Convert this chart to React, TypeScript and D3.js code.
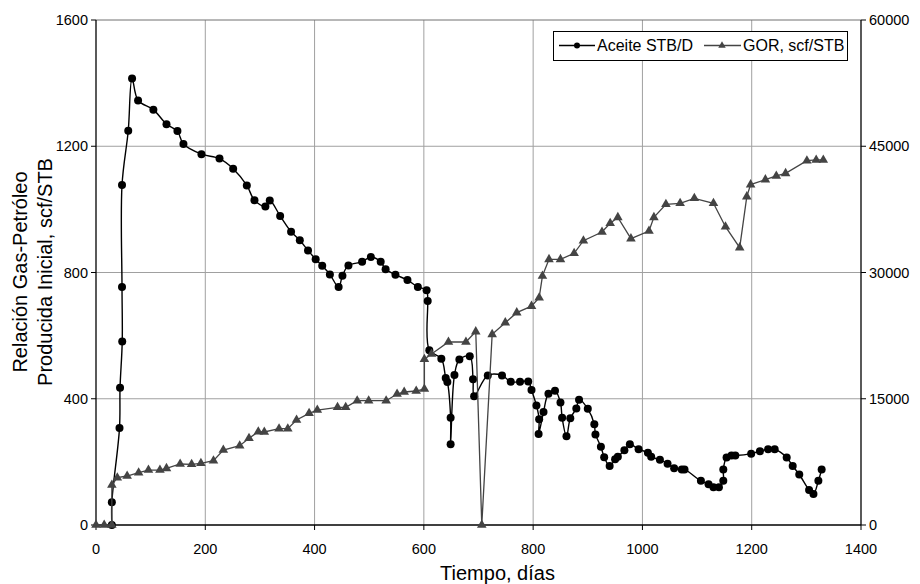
import React from "react";
import * as d3 from "d3";

// ---- data ----
const oilDays = [29, 29, 43, 44, 48, 47.6, 47.6, 59, 66, 77, 105, 129, 149, 160, 193, 226, 251, 276, 290, 310, 318, 337, 357, 373, 388, 402, 414, 428, 444, 451, 462, 487, 503, 521, 530, 548, 570, 589, 605, 607, 610, 632, 640, 643, 649, 649, 656, 665, 684, 690, 692, 717, 743, 759, 776, 791, 797, 806, 811, 810, 819, 828, 840, 850, 853, 861, 868, 879, 884, 900, 912, 914, 924, 930, 940, 950, 955, 967, 977, 993, 1010, 1016, 1032, 1046, 1058, 1072, 1077, 1107, 1121, 1130, 1140, 1148, 1148, 1154, 1163, 1170, 1199, 1215, 1230, 1242, 1264, 1275, 1287, 1305, 1313, 1322, 1328];
const oilRate = [0, 72, 307, 435, 581, 754, 1077, 1249, 1415, 1345, 1316, 1270, 1248, 1207, 1175, 1161, 1129, 1076, 1029, 1009, 1028, 979, 929, 902, 870, 842, 821, 794, 754, 790, 822, 834, 849, 834, 810, 793, 776, 754, 744, 710, 554, 527, 466, 453, 340, 256, 475, 524, 535, 462, 408, 474, 474, 454, 454, 455, 428, 379, 335, 288, 358, 416, 425, 388, 340, 281, 338, 369, 397, 368, 319, 287, 248, 215, 187, 208, 216, 237, 256, 240, 229, 216, 207, 194, 180, 176, 176, 140, 129, 120, 120, 140, 176, 214, 220, 220, 226, 234, 240, 240, 214, 187, 160, 111, 98, 140, 176];

const gorDays = [0, 15, 29, 29, 39, 57, 78, 96, 117, 129, 154, 175, 192, 215, 233, 263, 280, 297, 308, 335, 351, 367, 390, 405, 442, 457, 478, 499, 531, 551, 564, 586, 601, 601, 614, 645, 677, 695, 706, 725, 749, 770, 797, 811, 817, 829, 850, 875, 892, 926, 941, 955, 979, 1012, 1021, 1043, 1069, 1095, 1130, 1152, 1178, 1191, 1198, 1225, 1245, 1262, 1301, 1318, 1331];
const gorValues = [0, 0, 0, 4750, 5620, 5820, 6210, 6530, 6530, 6730, 7250, 7210, 7330, 7640, 8910, 9420, 10300, 11080, 11050, 11440, 11440, 12470, 13270, 13660, 13980, 13980, 14770, 14770, 14770, 15560, 15800, 15920, 16160, 19690, 20320, 21740, 21740, 22970, 0, 22650, 24040, 25230, 26000, 27000, 29580, 31560, 31560, 32280, 33780, 34810, 35840, 36550, 34020, 34930, 36550, 38100, 38220, 38810, 38220, 35440, 32950, 39010, 40440, 41030, 41470, 41780, 43280, 43370, 43370];

const xTicks = [0, 200, 400, 600, 800, 1000, 1200, 1400];
const leftTicks = [0, 400, 800, 1200, 1600];
const rightTicks = [0, 15000, 30000, 45000, 60000];

const oilLabel = "Aceite STB/D";
const gorLabel = "GOR, scf/STB";
const xTitle = "Tiempo, días";
const yTitle1 = "Relación Gas-Petróleo";
const yTitle2 = "Producida Inicial, scf/STB";

const W = 920;
const H = 584;
const FONT = "Liberation Sans, Arial, Helvetica, sans-serif";

export default function App() {
  const x = d3.scaleLinear().domain([0, 1400]).range([96, 861]);
  const yL = d3.scaleLinear().domain([0, 1600]).range([525, 20]);
  const yR = d3.scaleLinear().domain([0, 60000]).range([525, 20]);

  const oilPts: [number, number][] = oilDays.map((d, i) => [x(d), yL(oilRate[i])]);
  const gorPts: [number, number][] = gorDays.map((d, i) => [x(d), yR(gorValues[i])]);

  const oilLine = d3.line().curve(d3.curveCatmullRom.alpha(0.5))(oilPts) || "";
  const gorLine = d3.line()(gorPts) || "";
  const tri = d3.symbol().type(d3.symbolTriangle).size(40)() || "";

  const gridColor = "#a0a0a0";
  const gorColor = "#444444";

  const [x0, x1] = x.range();
  const yBot = yL(0);
  const yTop = yL(1600);

  return (
    <svg width={W} height={H} style={{ position: "absolute", left: 0, top: 0, background: "#fff" }} fontFamily={FONT}>
      <rect x={0} y={0} width={W} height={H} fill="#fff" />
      {/* grid */}
      {xTicks.slice(1, -1).map((t) => (
        <line key={"gx" + t} x1={x(t)} x2={x(t)} y1={yTop} y2={yBot} stroke={gridColor} strokeWidth={1} />
      ))}
      {leftTicks.slice(1).map((t) => (
        <line key={"gy" + t} x1={x0} x2={x1} y1={yL(t)} y2={yL(t)} stroke={t === 1600 ? "#707070" : gridColor} strokeWidth={1} />
      ))}
      {/* axes */}
      <line x1={x0} x2={x0} y1={yTop} y2={yBot} stroke="#000" strokeWidth={1.3} />
      <line x1={x1} x2={x1} y1={yTop} y2={yBot} stroke="#000" strokeWidth={1.3} />
      <line x1={x0} x2={x1} y1={yBot} y2={yBot} stroke="#000" strokeWidth={1.3} />
      {xTicks.map((t) => (
        <g key={"xt" + t}>
          <line x1={x(t)} x2={x(t)} y1={yBot} y2={yBot + 5} stroke="#000" strokeWidth={1} />
          <text x={x(t)} y={554} textAnchor="middle" fontSize={14.5} fill="#000">{t}</text>
        </g>
      ))}
      {leftTicks.map((t) => (
        <g key={"lt" + t}>
          <line x1={x0 - 5} x2={x0} y1={yL(t)} y2={yL(t)} stroke="#000" strokeWidth={1} />
          <text x={x0 - 8} y={yL(t) + 5} textAnchor="end" fontSize={14.5} fill="#000">{t}</text>
        </g>
      ))}
      {rightTicks.map((t) => (
        <g key={"rt" + t}>
          <line x1={x1} x2={x1 + 5} y1={yR(t)} y2={yR(t)} stroke="#000" strokeWidth={1} />
          <text x={x1 + 8} y={yR(t) + 5} textAnchor="start" fontSize={14.5} fill="#000">{t}</text>
        </g>
      ))}

      {/* oil series */}
      <path d={oilLine} fill="none" stroke="#000" strokeWidth={1.4} />
      {oilPts.map((p, i) => (
        <circle key={"o" + i} cx={p[0]} cy={p[1]} r={4} fill="#000" />
      ))}

      {/* GOR series */}
      <path d={gorLine} fill="none" stroke={gorColor} strokeWidth={1.3} />
      {gorPts.map((p, i) => (
        <path key={"g" + i} d={tri} transform={`translate(${p[0]},${p[1]})`} fill={gorColor} />
      ))}

      {/* legend */}
      <rect x={553.5} y={31.5} width={294} height={29} fill="#fff" stroke="#000" strokeWidth={1} />
      <line x1={559} x2={595} y1={45.5} y2={45.5} stroke="#000" strokeWidth={1.4} />
      <circle cx={577} cy={45.5} r={3} fill="#000" />
      <text x={597} y={51} fontSize={16} fill="#000">{oilLabel}</text>
      <line x1={704} x2={741} y1={45.5} y2={45.5} stroke={gorColor} strokeWidth={1.3} />
      <path d={d3.symbol().type(d3.symbolTriangle).size(24)() || ""} transform="translate(722,45.5)" fill={gorColor} />
      <text x={743} y={51} fontSize={16} fill="#000">{gorLabel}</text>

      {/* titles */}
      <text x={497.5} y={580} textAnchor="middle" fontSize={20} fill="#000">{xTitle}</text>
      <text transform={`translate(26.5,272) rotate(-90)`} textAnchor="middle" fontSize={20} fill="#000">{yTitle1}</text>
      <text transform={`translate(52,272) rotate(-90)`} textAnchor="middle" fontSize={20} fill="#000">{yTitle2}</text>
    </svg>
  );
}
